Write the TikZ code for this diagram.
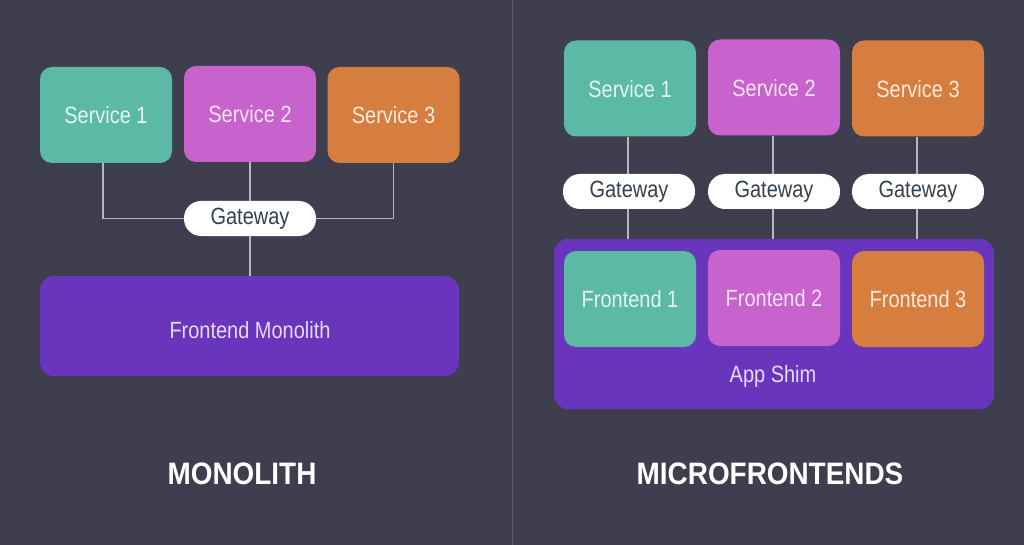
\documentclass[tikz,border=0pt]{standalone}
\usepackage{fontspec}
\setmainfont{Liberation Sans}[FakeStretch=0.85]
\newfontfamily\titlefont{Liberation Sans}[FakeStretch=0.9]
\definecolor{bg}{HTML}{3F3E4F}
\definecolor{divider}{HTML}{625F70}
\definecolor{teal}{HTML}{5CB9A5}
\definecolor{pinkc}{HTML}{C862CC}
\definecolor{orangec}{HTML}{D67D40}
\definecolor{purplec}{HTML}{6A35BD}
\definecolor{wire}{HTML}{B8B8C0}
\definecolor{gwtext}{HTML}{36404E}
\definecolor{tealtext}{HTML}{E3F6F0}
\definecolor{pinktext}{HTML}{F8E3F8}
\definecolor{orangetext}{HTML}{FDEBDD}
\definecolor{purpletext}{HTML}{E6DAF6}
\begin{document}
\begin{tikzpicture}[x=1pt,y=-1pt,
  box/.style={rounded corners=12pt,font=\fontsize{23.5}{26}\selectfont,inner sep=0pt},
  svc/.style={box,minimum width=132pt,minimum height=96pt,text depth=0pt},
  gw/.style={fill=white,rounded corners=17pt,minimum width=132pt,minimum height=35pt,
    inner sep=0pt,text=gwtext,font=\fontsize{23.5}{26}\selectfont},
  wirestyle/.style={draw=wire,line width=1.3pt},
  title/.style={text=white,font=\titlefont\bfseries\fontsize{31}{34}\selectfont}]
\fill[bg] (0,0) rectangle (1024,545);
\useasboundingbox (0,0) rectangle (1024,545);
\draw[divider,line width=1pt] (512.5,0) -- (512.5,545);

% ---------- Monolith ----------
\node[svc,fill=teal,text=tealtext] (ls1) at (106,115) {Service 1};
\node[svc,fill=pinkc,text=pinktext] (ls2) at (250,114) {Service 2};
\node[svc,fill=orangec,text=orangetext] (ls3) at (393.5,115) {Service 3};
\node[box,fill=purplec,text=purpletext,minimum width=419pt,minimum height=100pt,rounded corners=14pt] (mono) at (249.5,326) {};
\node[text=purpletext,font=\fontsize{23.5}{26}\selectfont] (monotext) at (250,330) {Frontend Monolith};
\node[gw] (lgw) at (250,218.5) {Gateway};
\draw[wirestyle] (ls1.south -| 103,0) |- (lgw.west);
\draw[wirestyle] (ls3.south) |- (lgw.east);
\draw[wirestyle] (ls2.south) -- (lgw.north);
\draw[wirestyle] (lgw.south) -- (mono.north -| lgw.south);
\node[title] (t1) at (242,474) {MONOLITH};

% ---------- Microfrontends ----------
\node[box,fill=purplec,minimum width=440pt,minimum height=170pt,rounded corners=14pt] (shim) at (774,324) {};
\node[svc,fill=teal,text=tealtext] (rs1) at (630,88.5) {Service 1};
\node[svc,fill=pinkc,text=pinktext] (rs2) at (774,87.5) {Service 2};
\node[svc,fill=orangec,text=orangetext] (rs3) at (918,88.5) {Service 3};
\node[gw] (rg1) at (629,191.5) {Gateway};
\node[gw] (rg2) at (774,191.5) {Gateway};
\node[gw] (rg3) at (918,191.5) {Gateway};
\node[svc,fill=teal,text=tealtext] (rf1) at (630,299) {Frontend 1};
\node[svc,fill=pinkc,text=pinktext] (rf2) at (774,298) {Frontend 2};
\node[svc,fill=orangec,text=orangetext] (rf3) at (918,299) {Frontend 3};
\node[text=purpletext,font=\fontsize{23.5}{26}\selectfont] (shimtext) at (773,376) {App Shim};
\draw[wirestyle] (rs1.south -| 628,0) -- (rg1.north -| 628,0);
\draw[wirestyle] (rg1.south -| 628,0) -- (shim.north -| 628,0);
\draw[wirestyle] (rs2.south -| 773,0) -- (rg2.north -| 773,0);
\draw[wirestyle] (rg2.south -| 773,0) -- (shim.north -| 773,0);
\draw[wirestyle] (rs3.south -| 917,0) -- (rg3.north -| 917,0);
\draw[wirestyle] (rg3.south -| 917,0) -- (shim.north -| 917,0);
\node[title] (t2) at (770,474) {MICROFRONTENDS};
\end{tikzpicture}
\end{document}
